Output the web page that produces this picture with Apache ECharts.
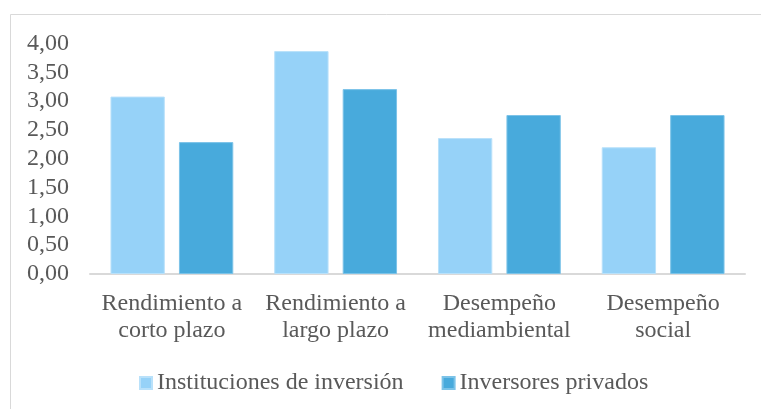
<!DOCTYPE html>
<html>
<head>
<meta charset="utf-8">
<script src="https://cdn.jsdelivr.net/npm/echarts@6/dist/echarts.min.js"></script>
<style>
  html, body { margin: 0; padding: 0; background: #fff; }
  #chart { width: 761px; height: 409px; }
</style>
</head>
<body>
<div id="chart"></div>
<script>
// Categories and values per investor group
const categories = [
  'Rendimiento a\ncorto plazo',
  'Rendimiento a\nlargo plazo',
  'Desempeño\nmediambiental',
  'Desempeño\nsocial'
];
const seriesNames = ['Instituciones de inversión', 'Inversores privados'];
const instituciones = [3.08, 3.87, 2.36, 2.20];
const privados = [2.29, 3.21, 2.76, 2.76];

const FONT = '"Liberation Serif", "Times New Roman", serif';
const TEXT = '#595959';

const chart = echarts.init(document.getElementById('chart'));
chart.setOption({
  animation: false,
  backgroundColor: '#fff',
  graphic: [{
    type: 'rect',
    shape: { x: 10.5, y: 14.5, width: 800, height: 450 },
    style: { fill: 'none', stroke: '#d9d9d9', lineWidth: 1 },
    silent: true
  }],
  grid: { left: 90, right: 16, top: 43.6, bottom: 135 },
  legend: {
    data: seriesNames,
    left: 134,
    top: 366,
    itemWidth: 12,
    itemHeight: 12,
    itemGap: 38,
    icon: 'rect',
    textStyle: { fontFamily: FONT, fontSize: 24, color: TEXT }
  },
  xAxis: {
    type: 'category',
    data: categories,
    axisLine: { lineStyle: { color: '#d9d9d9', width: 2 } },
    axisTick: { show: false },
    axisLabel: {
      fontFamily: FONT, fontSize: 24, color: TEXT,
      lineHeight: 27, margin: 16, interval: 0
    }
  },
  yAxis: {
    type: 'value',
    min: 0, max: 4, interval: 0.5,
    axisLine: { show: false },
    axisTick: { show: false },
    splitLine: { show: false },
    axisLabel: {
      fontFamily: FONT, fontSize: 24, color: TEXT, margin: 21,
      formatter: v => v.toFixed(2).replace('.', ',')
    }
  },
  series: [
    {
      name: seriesNames[0], type: 'bar', data: instituciones,
      barGap: '26%', barCategoryGap: '25%',
      itemStyle: { color: '#96D2F8', borderColor: '#B9E1FA', borderWidth: 1 }
    },
    {
      name: seriesNames[1], type: 'bar', data: privados,
      itemStyle: { color: '#48AADC', borderColor: '#7CC3E8', borderWidth: 1 }
    }
  ]
});
</script>
</body>
</html>
